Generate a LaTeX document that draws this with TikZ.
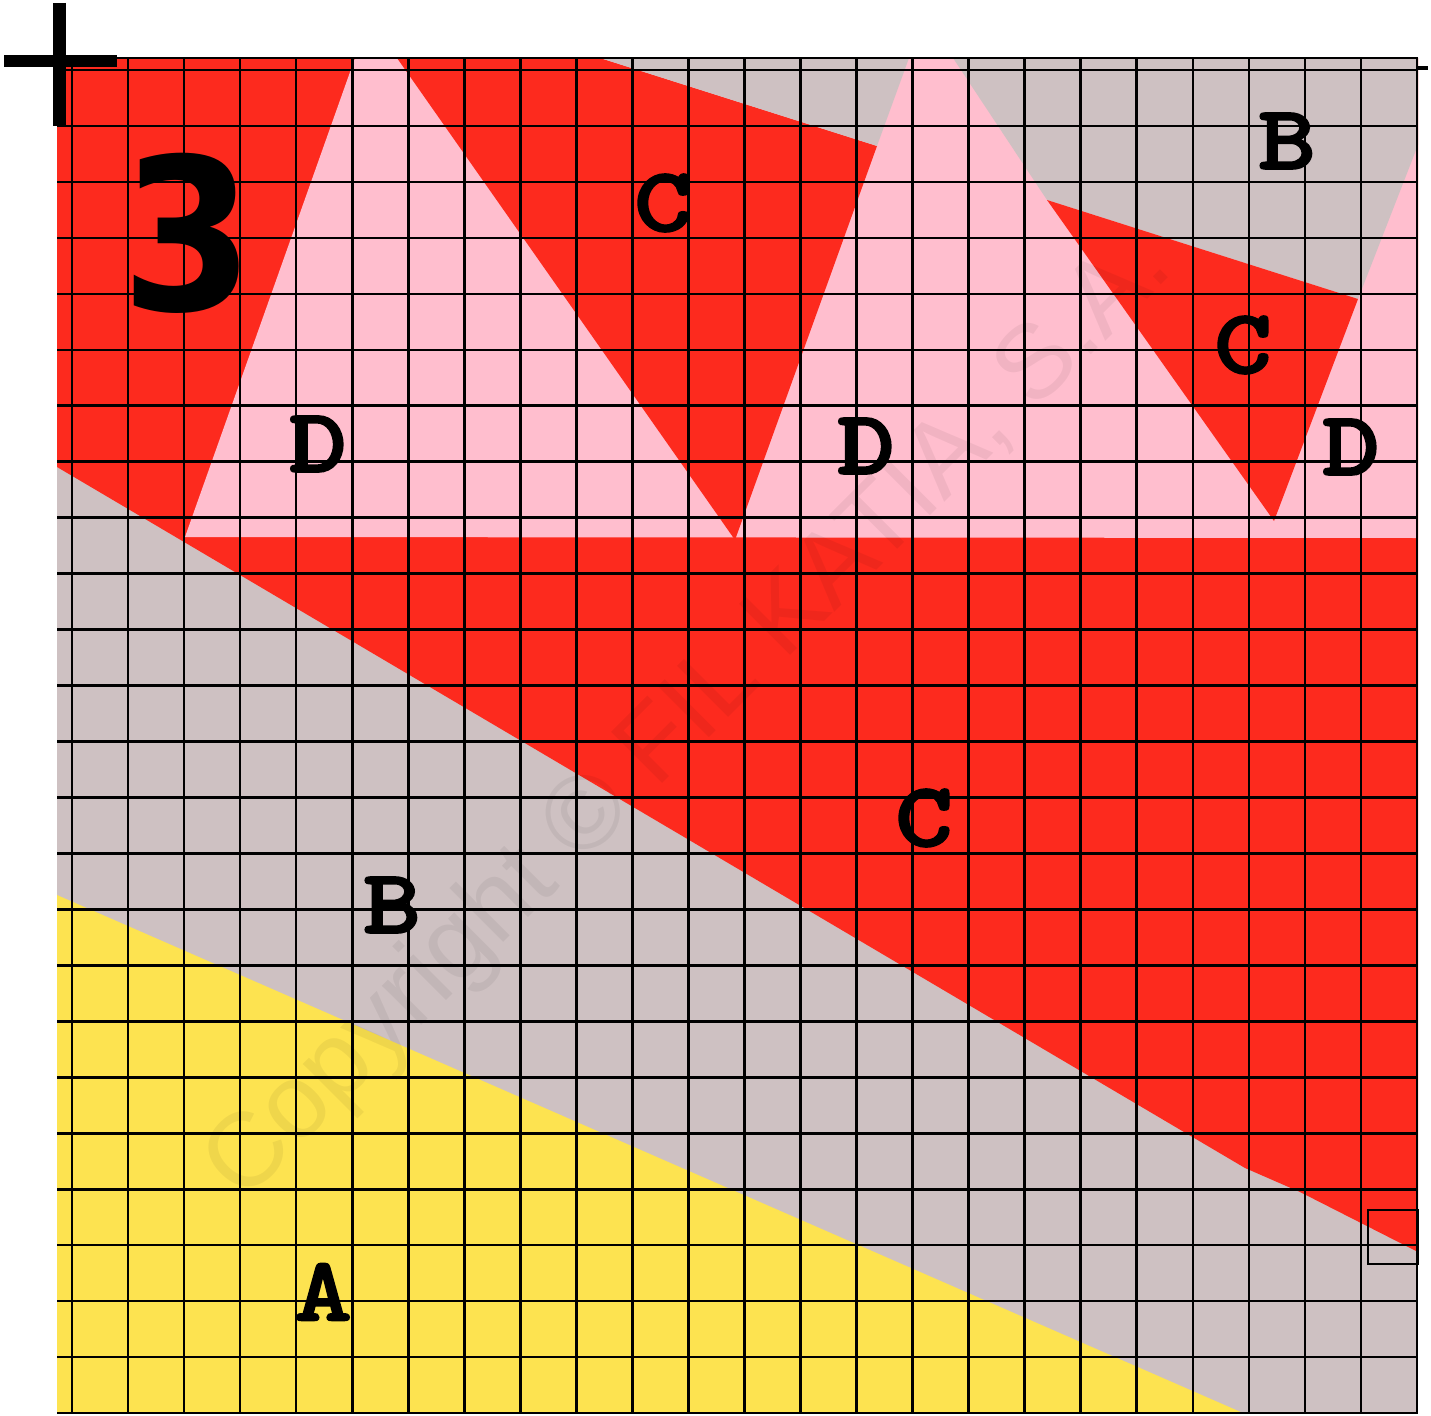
\documentclass[tikz,border=0pt]{standalone}
\usepackage{fontspec}
\newfontfamily\numfont{DejaVu Sans}
\newfontfamily\wmfont{Liberation Sans}
\newfontfamily\labfont{lmmonolt10-bold.otf}[FakeBold=1.6]
\definecolor{cred}{RGB}{253,42,30}
\definecolor{cpink}{RGB}{255,190,206}
\definecolor{cgray}{RGB}{206,193,194}
\definecolor{cyellow}{RGB}{253,227,80}
\begin{document}
\begin{tikzpicture}[x=1pt,y=-1pt,
  lab/.style={font=\labfont\fontsize{92}{92}\selectfont, inner sep=0pt, xscale=1.2},
  gridline/.style={line width=2.6pt, black},
  heavy/.style={line width=12.5pt, black}]
\useasboundingbox (0,0) rectangle (1431,1415);
% background regions
\fill[cgray] (57,58) rectangle (1418,1413);
\fill[cyellow] (57,895) -- (1243,1413) -- (57,1413) -- cycle;
\fill[cred] (57,58) -- (1418,58) -- (1418,1252) -- (1300,1192) -- (1245,1168) -- (57,467) -- cycle;
\fill[cpink] (355,58) -- (1418,58) -- (1418,538) -- (185,537) -- cycle;
\fill[cred] (397,58) -- (600,58) -- (877,146) -- (735,540) -- cycle;
\fill[cgray] (600,58) -- (909,58) -- (877,146) -- cycle;
\fill[cgray] (953,58) -- (1418,58) -- (1418,145) -- (1358,299) -- (1047,200) -- cycle;
\fill[cred] (1047,200) -- (1358,299) -- (1274,521) -- cycle;
% watermark
\node[rotate=45, opacity=0.055, font=\wmfont\fontsize{105}{105}\selectfont, inner sep=0pt] (wm) at (690,718) {Copyright © FIL KATIA, S.A.};
% grid
\foreach \k in {0,...,24} {
  \draw[gridline] ({72+56.04*\k},58) -- ({72+56.04*\k},1413);
  \draw[gridline] (57,{70+55.96*\k}) -- (1418,{70+55.96*\k});
}
\draw[gridline] (57,58) -- (1418,58);
\draw[line width=4pt] (1416,68) -- (1428,68);
% registration cross
\draw[heavy] (59.5,3) -- (59.5,126);
\draw[heavy] (4,61) -- (117,61);
% small square
\draw[line width=2pt] (1368,1210) rectangle (1418,1264);
% labels
\node[font=\numfont\bfseries\fontsize{212}{212}\selectfont, inner sep=0pt, xscale=0.9] (num) at (188,233) {3};
\node[lab] (bTop) at (1287,141) {B};
\node[lab] (cTop) at (663,203) {C};
\node[lab] (cRight) at (1243,345) {C};
\node[lab] (dLeft) at (318,444) {D};
\node[lab] (dMid) at (866,446) {D};
\node[lab] (dRight) at (1351,447) {D};
\node[lab] (cLow) at (924,818) {C};
\node[lab] (bLow) at (392,905) {B};
\node[lab] (aLow) at (323,1292) {A};
\end{tikzpicture}
\end{document}
